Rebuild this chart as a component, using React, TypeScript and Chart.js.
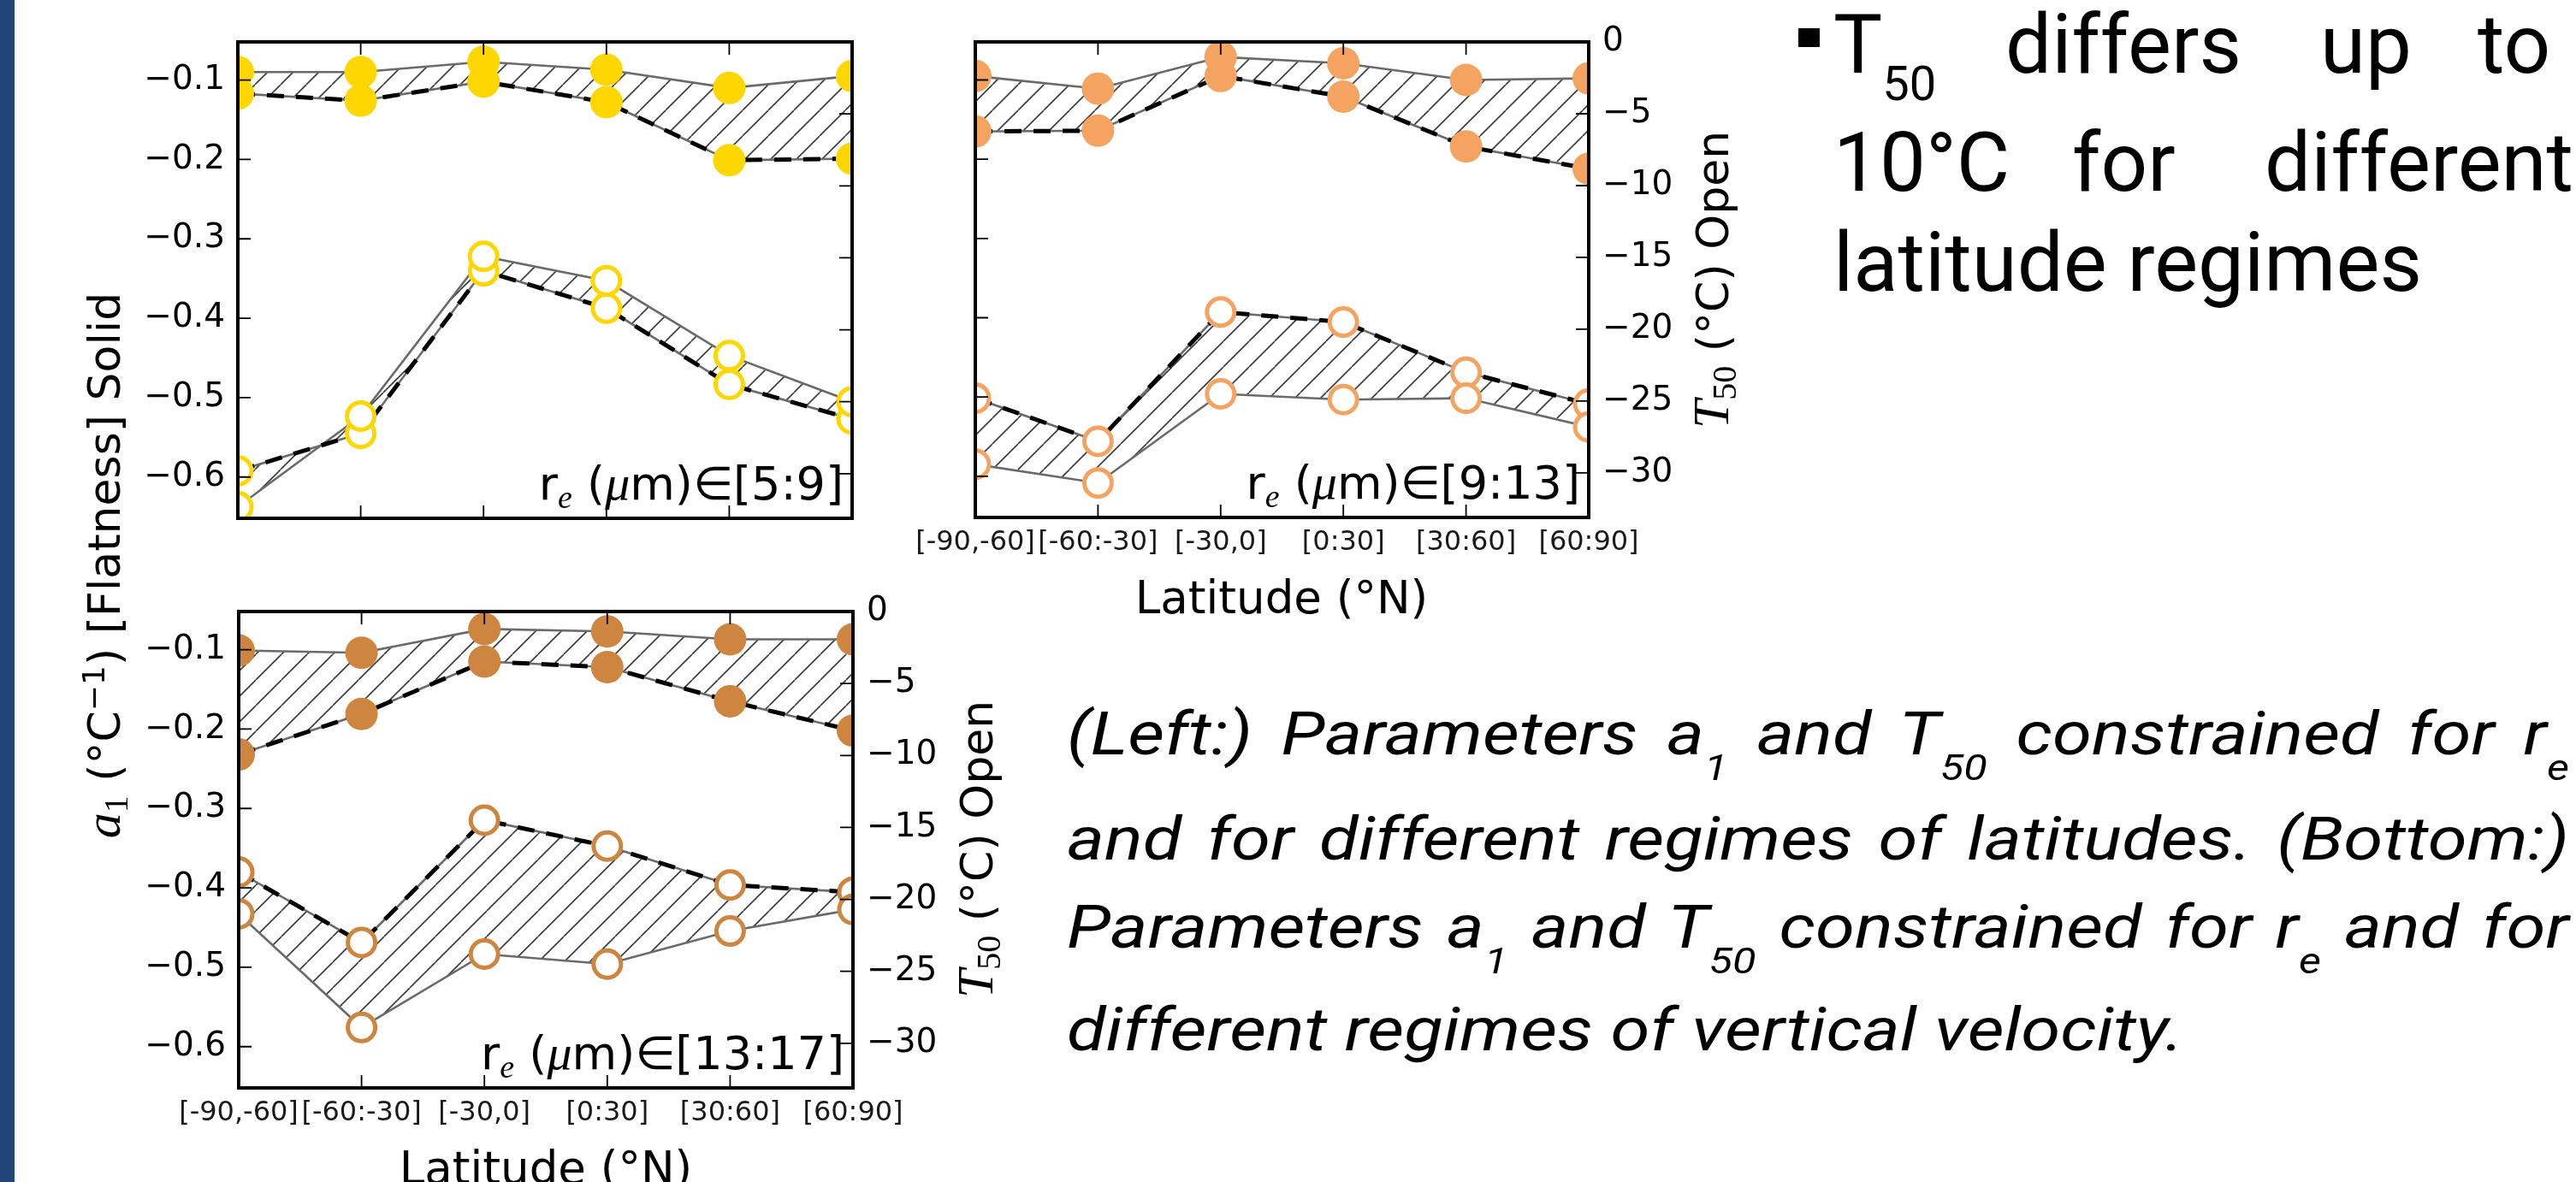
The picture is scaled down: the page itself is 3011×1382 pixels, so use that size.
import React, { useEffect, useRef } from 'react';
import { Chart, registerables } from 'chart.js';

Chart.register(...registerables);

// ---------------- data ----------------
const LATITUDE_BINS = ['[-90,-60]', '[-60:-30]', '[-30,0]', '[0:30]', '[30:60]', '[60:90]'];
const A1_TICKS = [-0.6, -0.5, -0.4, -0.3, -0.2, -0.1];
const T50_TICKS = [0, -5, -10, -15, -20, -25, -30];
const RE_RANGES = ['5:9', '9:13', '13:17'];

// r_e in [5:9]
const A1_GRAY_RE5_9 = [-0.09, -0.09, -0.077, -0.087, -0.11, -0.095];
const A1_DASH_RE5_9 = [-0.117, -0.126, -0.102, -0.128, -0.201, -0.199];
const T50_GRAY_RE5_9 = [-32.3, -26.0, -14.9, -16.6, -21.8, -25.0];
const T50_DASH_RE5_9 = [-29.8, -27.2, -15.9, -18.5, -23.8, -26.2];

// r_e in [9:13]
const A1_GRAY_RE9_13 = [-0.095, -0.111, -0.071, -0.079, -0.1, -0.098];
const A1_DASH_RE9_13 = [-0.165, -0.164, -0.095, -0.121, -0.184, -0.212];
const T50_GRAY_RE9_13 = [-29.4, -30.7, -24.5, -24.9, -24.8, -26.8];
const T50_DASH_RE9_13 = [-24.8, -27.8, -18.8, -19.5, -23.0, -25.2];

// r_e in [13:17]
const A1_GRAY_RE13_17 = [-0.101, -0.104, -0.074, -0.077, -0.087, -0.087];
const A1_DASH_RE13_17 = [-0.232, -0.181, -0.115, -0.122, -0.165, -0.202];
const T50_GRAY_RE13_17 = [-21.0, -28.9, -23.8, -24.5, -22.2, -20.7];
const T50_DASH_RE13_17 = [-18.1, -23.0, -14.5, -16.3, -19.0, -19.5];

// ---------------- styles / layout ----------------
const GRAY = '#6a6a6a';
const PAD_L = 220, PAD_R = 220, PAD_T = 40, PAD_B = 100;
const TICK_FONT = 'DejaVu Sans';

type Box = { left: number; top: number; right: number; bottom: number };
type PanelCfg = {
  box: Box;
  a1Gray: number[]; a1Dash: number[]; tGray: number[]; tDash: number[];
  color: string; re: string;
  showX: boolean; showLeft: boolean; showRight: boolean;
};

const PANELS: PanelCfg[] = [
  { box: { left: 278, top: 49, right: 996, bottom: 606 }, a1Gray: A1_GRAY_RE5_9, a1Dash: A1_DASH_RE5_9, tGray: T50_GRAY_RE5_9, tDash: T50_DASH_RE5_9, color: '#FFD700', re: RE_RANGES[0], showX: false, showLeft: true, showRight: false },
  { box: { left: 1140, top: 49, right: 1857, bottom: 605 }, a1Gray: A1_GRAY_RE9_13, a1Dash: A1_DASH_RE9_13, tGray: T50_GRAY_RE9_13, tDash: T50_DASH_RE9_13, color: '#F4A460', re: RE_RANGES[1], showX: true, showLeft: false, showRight: true },
  { box: { left: 279, top: 715, right: 997, bottom: 1272 }, a1Gray: A1_GRAY_RE13_17, a1Dash: A1_DASH_RE13_17, tGray: T50_GRAY_RE13_17, tDash: T50_DASH_RE13_17, color: '#CD853F', re: RE_RANGES[2], showX: true, showLeft: true, showRight: true },
];

function makeHatch(): CanvasPattern | string {
  const c = document.createElement('canvas');
  const w = 30, h = 30;
  c.width = w; c.height = h;
  const g = c.getContext('2d');
  if (!g) return 'rgba(0,0,0,0)';
  g.strokeStyle = '#3c3c3c';
  g.lineWidth = 1.6;
  g.beginPath();
  for (const off of [-w, 0, w]) {
    g.moveTo(off, h);
    g.lineTo(off + w, 0);
  }
  g.stroke();
  const p = g.createPattern(c, 'repeat');
  return p || 'rgba(0,0,0,0)';
}

const framePlugin = {
  id: 'frame',
  afterDatasetsDraw(chart: any) {
    const { ctx, chartArea } = chart;
    const { left, right, top, bottom } = chartArea;
    const sx = chart.scales.x, sy = chart.scales.y, sy2 = chart.scales.y2;
    const TL = 15;
    ctx.save();
    ctx.strokeStyle = '#000';
    ctx.lineWidth = 1.8;
    ctx.beginPath();
    sx.ticks.forEach((t: any) => {
      const px = sx.getPixelForValue(t.value);
      ctx.moveTo(px, bottom); ctx.lineTo(px, bottom - TL);
      ctx.moveTo(px, top); ctx.lineTo(px, top + TL);
    });
    sy.ticks.forEach((t: any) => {
      const py = sy.getPixelForValue(t.value);
      ctx.moveTo(left, py); ctx.lineTo(left + TL, py);
    });
    sy2.ticks.forEach((t: any) => {
      const py = sy2.getPixelForValue(t.value);
      ctx.moveTo(right, py); ctx.lineTo(right - TL, py);
    });
    ctx.stroke();
    ctx.lineWidth = 4;
    ctx.strokeRect(left, top, right - left, bottom - top);
    ctx.restore();
  },
};

const minus = (s: string) => s.replace('-', '\u2212');

function Panel({ cfg }: { cfg: PanelCfg }) {
  const ref = useRef<HTMLCanvasElement>(null);
  const W = cfg.box.right - cfg.box.left + PAD_L + PAD_R;
  const H = cfg.box.bottom - cfg.box.top + PAD_T + PAD_B;
  useEffect(() => {
    if (!ref.current) return;
    const hatch = makeHatch();
    const lineBase = { pointRadius: 0, pointHoverRadius: 0, tension: 0, clip: 0, fill: false };
    const grayLine = { ...lineBase, borderColor: GRAY, borderWidth: 2.6 };
    const dashLine = { ...lineBase, borderColor: '#000', borderWidth: 5, borderDash: [20, 14] };
    const filled = { showLine: false, pointRadius: 19, pointHoverRadius: 19, pointBackgroundColor: cfg.color, pointBorderColor: cfg.color, pointBorderWidth: 0, clip: 0, order: 1 };
    const open = { showLine: false, pointRadius: 16, pointHoverRadius: 16, pointBackgroundColor: '#ffffff', pointBorderColor: cfg.color, pointBorderWidth: 5, clip: 0, order: 1 };
    const chart = new Chart(ref.current, {
      type: 'line',
      data: {
        labels: LATITUDE_BINS,
        datasets: [
          { ...grayLine, data: cfg.a1Gray, yAxisID: 'y', order: 5 },
          { ...grayLine, data: cfg.a1Dash, yAxisID: 'y', fill: { target: 0 }, backgroundColor: hatch, order: 6 },
          { ...dashLine, data: cfg.a1Dash, yAxisID: 'y', order: 4 },
          { ...grayLine, data: cfg.tGray, yAxisID: 'y2', order: 5 },
          { ...grayLine, data: cfg.tDash, yAxisID: 'y2', fill: { target: 3 }, backgroundColor: hatch, order: 6 },
          { ...dashLine, data: cfg.tDash, yAxisID: 'y2', order: 4 },
          { ...filled, data: cfg.a1Gray, yAxisID: 'y' },
          { ...filled, data: cfg.a1Dash, yAxisID: 'y' },
          { ...open, data: cfg.tGray, yAxisID: 'y2' },
          { ...open, data: cfg.tDash, yAxisID: 'y2' },
        ] as any,
      },
      options: {
        animation: false,
        responsive: false,
        events: [],
        layout: { padding: { top: PAD_T, left: 0, right: 0, bottom: 0 } },
        plugins: { legend: { display: false }, tooltip: { enabled: false } },
        scales: {
          x: {
            type: 'category',
            offset: false,
            grid: { display: false, drawTicks: false },
            border: { display: false },
            ticks: { display: cfg.showX, autoSkip: false, maxRotation: 0, padding: 10, color: '#1a1a1a', font: { family: TICK_FONT, size: 32 } },
            afterFit: (s: any) => { s.height = PAD_B; },
          },
          y: {
            type: 'linear',
            position: 'left',
            min: -0.652,
            max: -0.052,
            grid: { display: false, drawTicks: false },
            border: { display: false },
            ticks: { display: cfg.showLeft, padding: 15, color: '#000', font: { family: TICK_FONT, size: 39 }, callback: (v: any) => minus(Number(v).toFixed(1)) },
            afterBuildTicks: (s: any) => { s.ticks = A1_TICKS.map((v) => ({ value: v })); },
            afterFit: (s: any) => { s.width = PAD_L; },
          },
          y2: {
            type: 'linear',
            position: 'right',
            min: -33.1,
            max: 0,
            grid: { display: false, drawTicks: false },
            border: { display: false },
            ticks: { display: cfg.showRight, padding: 16, color: '#000', font: { family: TICK_FONT, size: 39 }, callback: (v: any) => minus(String(v)) },
            afterBuildTicks: (s: any) => { s.ticks = T50_TICKS.map((v) => ({ value: v })); },
            afterFit: (s: any) => { s.width = PAD_R; },
          },
        },
      } as any,
      plugins: [framePlugin],
    });
    return () => chart.destroy();
  }, []);
  return (
    <canvas
      ref={ref}
      width={W}
      height={H}
      style={{ position: 'absolute', left: cfg.box.left - PAD_L, top: cfg.box.top - PAD_T, width: W, height: H }}
    />
  );
}

const SERIF = 'Liberation Serif';

function ReLabel({ cfg }: { cfg: PanelCfg }) {
  return (
    <text x={cfg.box.right - 10} y={cfg.box.bottom - 22} textAnchor="end" fontFamily={TICK_FONT} fontSize={54} fill="#000">
      r<tspan fontFamily={SERIF} fontStyle="italic" fontSize={38} dy={10}>e</tspan>
      <tspan dy={-10}>{' ('}</tspan>
      <tspan fontFamily={SERIF} fontStyle="italic" fontSize={58}>μ</tspan>
      {'m)∈[' + cfg.re + ']'}
    </text>
  );
}

function T50Title({ x, y }: { x: number; y: number }) {
  return (
    <text transform={`translate(${x} ${y}) rotate(-90)`} textAnchor="middle" fontFamily={TICK_FONT} fontSize={52} fill="#000">
      <tspan fontFamily={SERIF} fontStyle="italic" fontSize={60}>T</tspan>
      <tspan fontFamily={SERIF} fontSize={40} dy={9}>50</tspan>
      <tspan dy={-9}>{' (°C) Open'}</tspan>
    </text>
  );
}

function LatTitle({ x, y }: { x: number; y: number }) {
  return (
    <text x={x} y={y} textAnchor="middle" fontFamily={TICK_FONT} fontSize={53} fill="#000">
      Latitude (°N)
    </text>
  );
}

// caption geometry
const CAP_LEFT = 1247;
const CAP_RIGHT = 3003;
const CAP_SCALE = 1.175;
const CAP_FS = 71;
const CAP_LH = 100;
const CAP_BASE_OFF = (CAP_LH - 1.1719 * CAP_FS) / 2 + 0.9277 * CAP_FS;

function S({ children }: { children: any }) {
  return <span style={{ fontSize: 43, position: 'relative', top: 30, lineHeight: 0 }}>{children}</span>;
}

function CapLine({ baseline, justify, children }: { baseline: number; justify: boolean; children: any }) {
  return (
    <div
      style={{
        position: 'absolute',
        left: CAP_LEFT,
        top: baseline - CAP_BASE_OFF,
        width: (CAP_RIGHT - CAP_LEFT) / CAP_SCALE,
        height: CAP_LH,
        transform: `scaleX(${CAP_SCALE})`,
        transformOrigin: '0 0',
        fontFamily: 'Roboto',
        fontStyle: 'italic',
        fontSize: CAP_FS,
        lineHeight: `${CAP_LH}px`,
        color: '#000',
        textAlign: justify ? 'justify' : 'left',
        textAlignLast: justify ? 'justify' : 'left',
      } as any}
    >
      {children}
    </div>
  );
}

export default function App() {
  return (
    <div style={{ position: 'absolute', left: 0, top: 0, width: 3011, height: 1382, overflow: 'hidden', background: '#ffffff' }}>
      <div style={{ position: 'absolute', left: 0, top: 0, width: 17, height: 1382, background: '#1F4577' }} />
      {PANELS.map((p, i) => <Panel key={i} cfg={p} />)}

      <CapLine baseline={882} justify={true}>(Left:) Parameters a<S>1</S> and T<S>50</S> constrained for r<S>e</S></CapLine>
      <CapLine baseline={1005} justify={true}>and for different regimes of latitudes. (Bottom:)</CapLine>
      <CapLine baseline={1108} justify={true}>Parameters a<S>1</S> and T<S>50</S> constrained for r<S>e</S> and for</CapLine>
      <CapLine baseline={1228} justify={false}>different regimes of vertical velocity.</CapLine>

      <svg width={3011} height={1382} style={{ position: 'absolute', left: 0, top: 0, pointerEvents: 'none' }}>
        {PANELS.map((p, i) => <ReLabel key={i} cfg={p} />)}

        {/* left shared y title */}
        <text transform="translate(140 661) rotate(-90)" textAnchor="middle" fontFamily={TICK_FONT} fontSize={52} fill="#000">
          <tspan fontFamily={SERIF} fontStyle="italic" fontSize={60}>a</tspan>
          <tspan fontFamily={SERIF} fontSize={40} dy={9}>1</tspan>
          <tspan dy={-9}>{'  (°C'}</tspan>
          <tspan fontSize={36} dy={-18}>{'\u22121'}</tspan>
          <tspan dy={18}>{') [Flatness] Solid'}</tspan>
        </text>

        <T50Title x={2020} y={327} />
        <T50Title x={1160} y={993} />
        <LatTitle x={1498} y={717} />
        <LatTitle x={638} y={1384} />

        {/* bullet text */}
        <rect x={2102} y={33} width={25} height={22} fill="#000" />
        <g fontFamily="Roboto" fontSize={96} fill="#000">
          <text x={2143} y={85}>T<tspan fontSize={56} dy={32}>50</tspan></text>
          <text x={2344} y={85}>differs</text>
          <text x={2712} y={85}>up</text>
          <text x={2896} y={85}>to</text>
          <text x={2143} y={223}>10°C</text>
          <text x={2422} y={223}>for</text>
          <text x={2647} y={223}>different</text>
          <text x={2143} y={340}>latitude regimes</text>
        </g>
      </svg>
    </div>
  );
}
